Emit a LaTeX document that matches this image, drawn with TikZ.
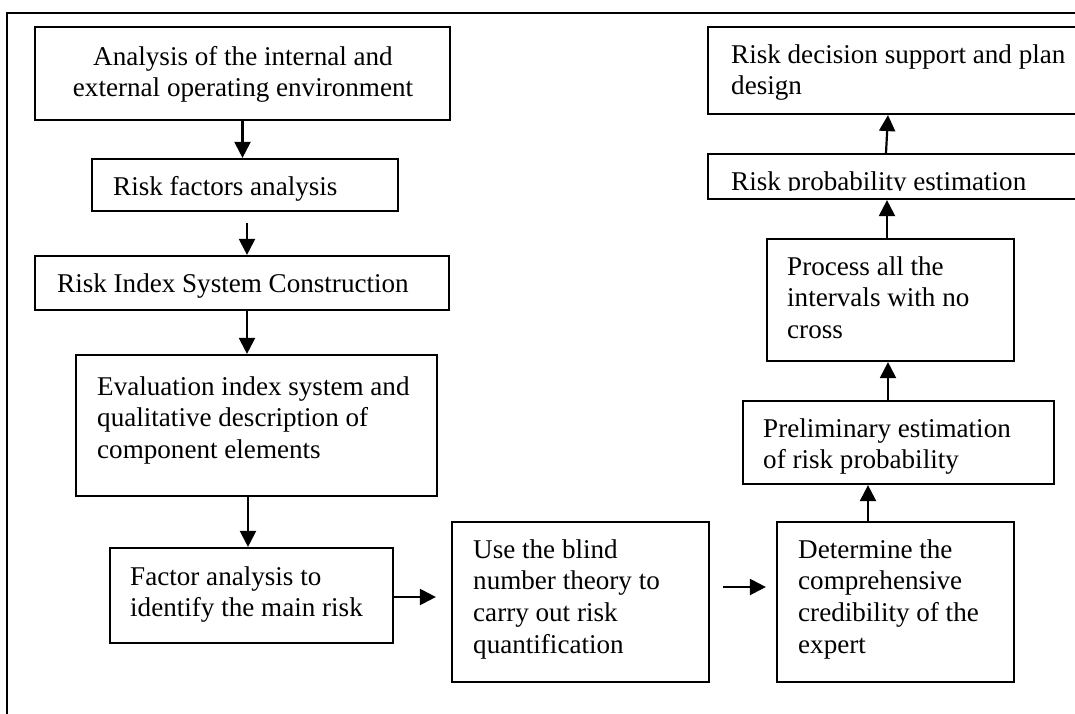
\documentclass[tikz,border=0pt]{standalone}
\usepackage{fontspec}
\setmainfont{Liberation Serif}
\usetikzlibrary{arrows.meta}
\tikzset{
  box/.style={draw, line width=2.2pt, rectangle, inner sep=0pt},
  txt/.style={inner sep=0pt, font=\fontsize{27.1}{31.7}\selectfont, align=left, anchor=north west},
  arr/.style={line width=2.2pt, -{Triangle[width=16pt,length=16pt]}},
  frame/.style={line width=2.2pt},
}
\newcommand{\bx}[5]{\node[box, minimum width={#4-#2}, minimum height={#5-#3}] (#1) at ({(#2+#4)/2},{(#3+#5)/2}) {};}
\newcommand{\fl}{\rule{0pt}{20pt}}
\begin{document}
\begin{tikzpicture}[x=1pt,y=-1pt]
\useasboundingbox (0,0) rectangle (1075,713);
\clip (0,0) rectangle (1075,713);
\fill[white] (0,0) rectangle (1075,713);
\draw[frame] (7,720) -- (7,13) -- (1085,13);
% boxes
\bx{B1}{35}{27}{450}{120}
\bx{B2}{92}{159}{398}{211}
\bx{B3}{35}{256}{449}{310}
\bx{B4}{76}{355}{437}{496}
\bx{B5}{110}{548}{393}{643}
\bx{B6}{452}{522}{709}{682}
\bx{B7}{777}{522}{1014}{682}
\bx{B8}{743}{401}{1054}{484}
\bx{B9}{767}{239}{1014}{361}
\bx{B10}{708}{154}{1090}{199}
\bx{B11}{708}{27}{1090}{114}
% texts
\node[txt, align=center, anchor=north] (t1) at (243,45) {\fl Analysis of the internal and\\external operating environment};
\node[txt] (t2) at (113,175) {\fl Risk factors analysis};
\node[txt] (t3) at (57,272) {\fl Risk Index System Construction};
\node[txt] (t4) at (97,375) {\fl Evaluation index system and\\qualitative description of\\component elements};
\node[txt] (t5) at (130,565) {\fl Factor analysis to\\identify the main risk};
\node[txt] (t6) at (473,538) {\fl Use the blind\\number theory to\\carry out risk\\quantification};
\node[txt] (t7) at (798,538) {\fl Determine the\\comprehensive\\credibility of the\\expert};
\node[txt] (t8) at (763,417) {\fl Preliminary estimation\\of risk probability};
\node[txt] (t9) at (787,255) {\fl Process all the\\intervals with no\\cross};
\begin{scope}
\clip (B10.north west) rectangle ([yshift=10pt]B10.south east);
\node[txt] (t10) at (731,170) {\fl Risk probability estimation};
\end{scope}
\node[txt] (t11) at (731,43) {\fl Risk decision support and plan\\design};
% connectors
\draw[arr] (B1.south) -- (B1.south |- B2.north);
\draw[arr] ([xshift=2pt,yshift=-11pt]B2.south) -- ([xshift=2pt]B2.south |- B3.north);
\draw[arr] ([xshift=5pt]B3.south) -- ([xshift=5pt]B3.south |- B4.north);
\draw[arr] ([xshift=-8.5pt]B4.south) -- ([xshift=-8.5pt]B4.south |- B5.north);
\draw[arr] ([yshift=-1.5pt]B5.east) -- ([xshift=-15pt,yshift=-1.5pt]B5.east -| B6.west);
\draw[arr] ([xshift=13pt,yshift=15pt]B6.east) -- ([xshift=-10pt,yshift=15pt]B6.east -| B7.west);
\draw[arr] ([xshift=-27.5pt]B7.north) -- ([xshift=-27.5pt]B7.north |- B8.south);
\draw[arr] ([xshift=-10.5pt]B8.north) -- ([xshift=-10.5pt]B8.north |- B9.south);
\draw[arr] ([xshift=-3.5pt]B9.north) -- ([xshift=-3.5pt]B9.north |- B10.south);
\draw[arr] ([xshift=-13pt]B10.north) -- ([xshift=-11pt]B10.north |- B11.south);
\end{tikzpicture}
\end{document}
